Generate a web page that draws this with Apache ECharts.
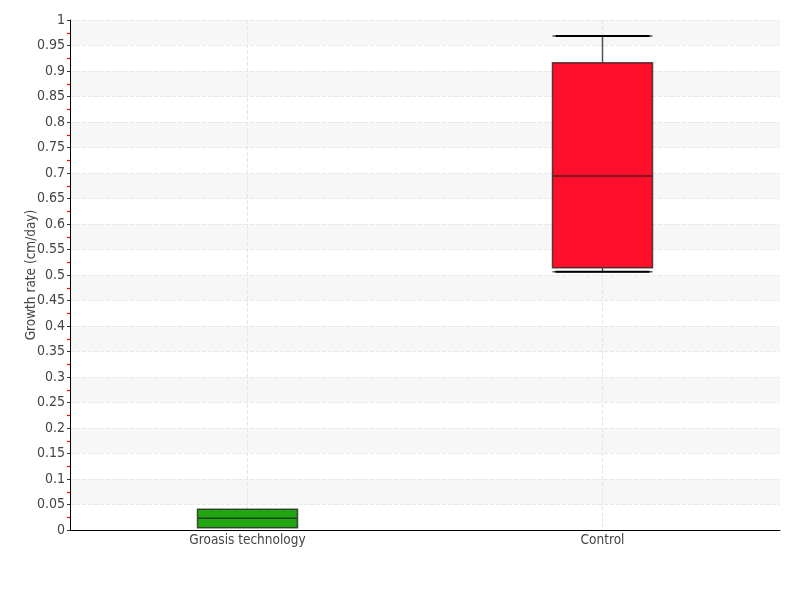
<!DOCTYPE html>
<html><head><meta charset="utf-8">
<script src="https://cdn.jsdelivr.net/npm/echarts@6/dist/echarts.min.js"></script>
<style>html,body{margin:0;padding:0;background:#fff}#c{width:800px;height:600px}</style>
</head><body><div id="c"></div>
<script>
const categories = ['Groasis technology', 'Control'];
// [min, Q1, median, Q3, max]
const boxValues = [
  [0.0045, 0.0045, 0.023, 0.0406, 0.0406],
  [0.5065, 0.514, 0.694, 0.916, 0.9686]
];
const boxColors = ['#22a612', '#ff0f2a'];
const yAxisName = 'Growth rate (cm/day)';

const FONT = '"Liberation Sans Narrow", "DejaVu Sans Condensed", sans-serif';
const chart = echarts.init(document.getElementById('c'));
chart.setOption({
  animation: false,
  grid: {left: 70, right: 20, top: 20, bottom: 70},
  xAxis: {
    type: 'category', data: categories, boundaryGap: true,
    axisLine: {lineStyle: {color: '#000', width: 1}},
    axisTick: {alignWithLabel: true, length: 3, lineStyle: {color: '#555'}},
    axisLabel: {color: '#444', fontSize: 13.5, fontFamily: FONT, margin: 3},
    splitLine: {show: true, alignWithLabel: true, lineStyle: {type: 'dashed', color: '#e6e6e6'}}
  },
  yAxis: {
    type: 'value', min: 0, max: 1, interval: 0.05,
    name: yAxisName, nameLocation: 'middle', nameGap: 32, nameMoveOverlap: false,
    nameTextStyle: {color: '#444', fontSize: 13.5, fontFamily: FONT},
    axisLine: {show: true, lineStyle: {color: '#000'}},
    axisTick: {show: true, length: 3, lineStyle: {color: '#333'}},
    minorTick: {show: true, splitNumber: 2, length: 3, lineStyle: {color: '#ff0000', width: 1.2}},
    axisLabel: {color: '#444', fontSize: 14, fontFamily: FONT, margin: 5,
      formatter: v => String(Math.round(v * 100) / 100)},
    splitLine: {show: true, lineStyle: {type: 'dashed', color: '#e8e8e8'}},
    splitArea: {show: true, areaStyle: {color: ['rgba(255,255,255,0)', '#f7f7f7']}}
  },
  series: [
    {
      type: 'boxplot',
      boxWidth: [100, 100],
      data: boxValues.map((v, i) => ({
        value: v,
        itemStyle: {color: boxColors[i], borderColor: 'rgba(30,30,30,0.75)', borderWidth: 1.5}
      }))
    },
    {
      type: 'custom',
      z: 5,
      data: boxValues.map((v, i) => [i, v[0], v[4]]),
      renderItem: (params, api) => {
        const lo = api.coord([api.value(0), api.value(1)]);
        const hi = api.coord([api.value(0), api.value(2)]);
        const hw = 47;
        const children = [];
        if (Math.abs(lo[1] - hi[1]) > 30) {
          children.push({type: 'line', shape: {x1: lo[0] - hw, y1: lo[1], x2: lo[0] + hw, y2: lo[1]}, style: {stroke: '#000', lineWidth: 2}});
          children.push({type: 'line', shape: {x1: hi[0] - hw, y1: hi[1], x2: hi[0] + hw, y2: hi[1]}, style: {stroke: '#000', lineWidth: 2}});
        }
        return {type: 'group', children};
      }
    }
  ]
});
</script></body></html>
